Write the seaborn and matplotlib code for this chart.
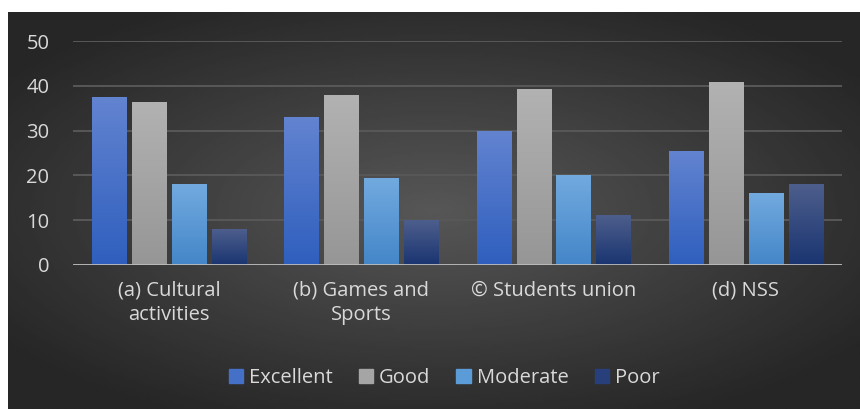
import numpy as np
import pandas as pd
import seaborn as sns
import matplotlib.pyplot as plt

# data
categories = ['(a) Cultural\nactivities', '(b) Games and\nSports', '© Students union', '(d) NSS']
ratings = ['Excellent', 'Good', 'Moderate', 'Poor']
excellent = [37.5, 33.0, 29.9, 25.4]
good = [36.4, 38.0, 39.3, 40.9]
moderate = [18.0, 19.4, 20.1, 16.0]
poor = [8.0, 10.0, 11.1, 18.0]

colors = ['#4470c8', '#a5a5a5', '#5a9bd8', '#27407c']
tops = ['#6283d0', '#b2b2b2', '#72aadf', '#4d5e8c']
bottoms = ['#2f5fbe', '#969696', '#4486c9', '#1a3571']

df = pd.DataFrame({
    'cat': categories * 4,
    'rating': [r for r in ratings for _ in categories],
    'value': excellent + good + moderate + poor,
})

sns.set_style('white')
plt.rcParams['font.family'] = ['Open Sans', 'DejaVu Sans']
txt = '#d9d9d9'
fs = 14.5

fig = plt.figure(figsize=(8.6, 4.09), dpi=100)
fig.patch.set_facecolor('white')

# background panel with a soft radial gradient
bg = fig.add_axes([8 / 860, 0, 852 / 860, 397 / 409])
yy, xx = np.mgrid[-1:1:200j, -1:1:400j]
r = np.sqrt((xx * 0.85) ** 2 + (yy * 0.9) ** 2)
shade = np.clip(0.34 - 0.18 * r, 0.15, 0.34)
bg.imshow(shade, cmap='gray', vmin=0, vmax=1, aspect='auto', extent=[0, 1, 0, 1])
bg.set_axis_off()

ax = fig.add_axes([73 / 860, 1 - 265 / 409, 769 / 860, 224 / 409])
ax.patch.set_visible(False)
sns.barplot(data=df, x='cat', y='value', hue='rating', palette=colors,
            width=0.83, gap=0.14, ax=ax, legend=False, zorder=3, linewidth=0)

# vertical gradient on each bar
grad = np.linspace(0, 1, 100).reshape(-1, 1)
for i, cont in enumerate(ax.containers):
    cmap = plt.matplotlib.colors.LinearSegmentedColormap.from_list('g', [bottoms[i], tops[i]])
    for p in cont.patches:
        x0, w, h = p.get_x(), p.get_width(), p.get_height()
        im = ax.imshow(grad, cmap=cmap, aspect='auto', origin='lower',
                       extent=[x0, x0 + w, 0, h], zorder=4)
        im.set_clip_path(p)

ax.set_xlim(-0.5, 3.5)
ax.set_ylim(0, 50)
ax.set_yticks([0, 10, 20, 30, 40, 50])
ax.yaxis.grid(True, color='#585858', lw=1.4, zorder=0)
ax.axhline(0, color='#bdbdbd', lw=2, zorder=5)
for s in ax.spines.values():
    s.set_visible(False)
ax.set_xlabel('')
ax.set_ylabel('')
ax.tick_params(axis='y', length=0, pad=17, labelsize=fs, labelcolor=txt)
ax.tick_params(axis='x', length=0, pad=11, labelsize=fs, labelcolor=txt)
for t in ax.get_xticklabels():
    t.set_linespacing(1.3)
    t.set_verticalalignment('top')

handles = [plt.Rectangle((0, 0), 1, 1, color=c) for c in colors]
leg = fig.legend(handles, ratings, loc='center', bbox_to_anchor=(444 / 860, 1 - 378 / 409),
                 ncol=4, frameon=False, fontsize=fs, labelcolor=txt,
                 handlelength=0.7, handleheight=0.7, handletextpad=0.3, columnspacing=1.3)

fig.savefig('out.png', dpi=100)
